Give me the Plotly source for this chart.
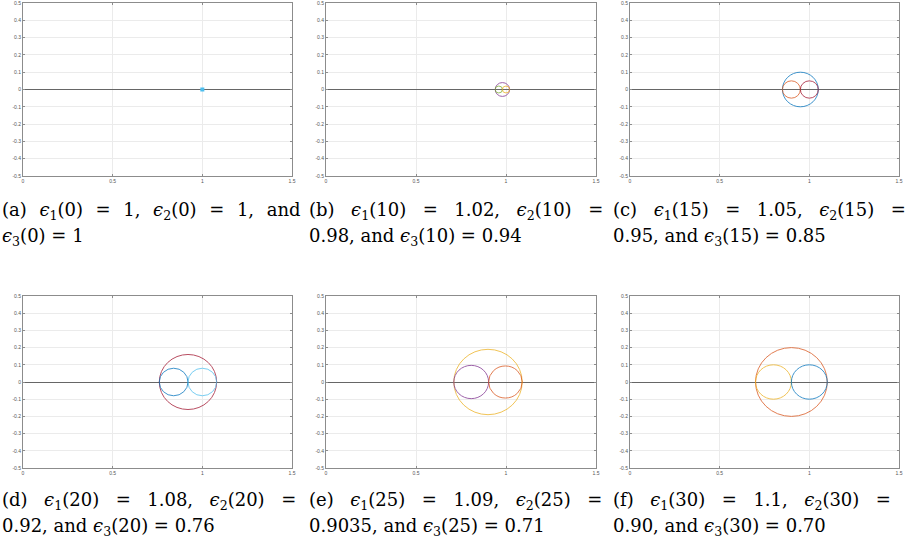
import plotly.graph_objects as go

# ============================================================================
# DATA
# ============================================================================
panel_labels = ['a', 'b', 'c', 'd', 'e', 'f']
steps = [0, 10, 15, 20, 25, 30]
eps1 = [1.0, 1.02, 1.05, 1.08, 1.09, 1.10]
eps2 = [1.0, 0.98, 0.95, 0.92, 0.9035, 0.90]
eps3 = [1.0, 0.94, 0.85, 0.76, 0.71, 0.70]
eps1_txt = ['1', '1.02', '1.05', '1.08', '1.09', '1.1']
eps2_txt = ['1', '0.98', '0.95', '0.92', '0.9035', '0.90']
eps3_txt = ['1', '0.94', '0.85', '0.76', '0.71', '0.70']

x_ticks = [0, 0.5, 1, 1.5]
x_ticktext = ['0', '0.5', '1', '1.5']
y_ticks = [0.5, 0.4, 0.3, 0.2, 0.1, 0, -0.1, -0.2, -0.3, -0.4, -0.5]
y_ticktext = ['0.5', '0.4', '0.3', '0.2', '0.1', '0', '-0.1', '-0.2', '-0.3', '-0.4', '-0.5']

# MATLAB default palette
BLUE, ORANGE, YELLOW, PURPLE = '#0072BD', '#D95319', '#EDB120', '#7E2F8E'
GREEN, LBLUE, DRED = '#77AC30', '#4DBEEE', '#A2142F'
# colours per panel: (big circle 3-1, left circle 3-2, right circle 2-1)
circle_colors = [
    (LBLUE, LBLUE, LBLUE),
    (PURPLE, GREEN, YELLOW),
    (BLUE, ORANGE, DRED),
    (DRED, BLUE, LBLUE),
    (YELLOW, PURPLE, ORANGE),
    (ORANGE, YELLOW, BLUE),
]

# ============================================================================
# LAYOUT (pixel geometry of the 914x550 page)
# ============================================================================
W, H = 914, 550
col_px = [(23, 292), (326, 596), (630, 899)]
row_px = [(3, 176), (296, 468)]
caption_x = [1, 308, 612]
caption_y = [(211, 237), (501, 527)]

fig = go.Figure()
SERIF = 'DejaVu Serif'
EPS = '<i>\u03f5</i>'
GAP_NORMAL = '\u00a0'
GAP_A = '\u2002\u2009'               # stretched spaces, caption (a) first line
GAP_WIDE = '\u00a0\u2002\u200a'      # stretched spaces, captions (b)-(f) first line

for i, lab in enumerate(panel_labels):
    r, c = divmod(i, 3)
    ax = '' if i == 0 else str(i + 1)
    xa, ya = 'x' + ax, 'y' + ax
    x0p, x1p = col_px[c]
    t, b = row_px[r]

    axis_common = dict(
        showline=True, linecolor='#8c8c8c', linewidth=1, mirror='ticks',
        ticks='inside', ticklen=2, tickcolor='#8c8c8c',
        showgrid=True, gridcolor='#ebebeb', gridwidth=1,
        tickfont=dict(size=5, color='#555555', family='Arial'),
        fixedrange=True, automargin=False, ticklabeloverflow='allow',
    )
    fig.layout['xaxis' + ax] = dict(
        axis_common, domain=[x0p / W, x1p / W], range=[0, 1.5],
        tickvals=x_ticks, ticktext=x_ticktext, zeroline=False,
        anchor=ya,
    )
    fig.layout['yaxis' + ax] = dict(
        axis_common, domain=[1 - b / H, 1 - t / H], range=[-0.5, 0.5],
        tickvals=y_ticks, ticktext=y_ticktext,
        zeroline=True, zerolinecolor='#666666', zerolinewidth=1,
        anchor=xa,
    )

    big, left, right = circle_colors[i]
    e1, e2, e3 = eps1[i], eps2[i], eps3[i]
    if e1 == e3:
        # all strains equal -> circles collapse to a point
        fig.add_trace(go.Scatter(
            x=[e1], y=[0], mode='markers', xaxis=xa, yaxis=ya,
            marker=dict(color=big, size=4, symbol='square'),
            showlegend=False, hoverinfo='skip'))
    else:
        for lo, hi, col in [(e3, e1, big), (e3, e2, left), (e2, e1, right)]:
            rad = (hi - lo) / 2
            fig.add_shape(type='circle', xref=xa, yref=ya,
                          x0=lo, x1=hi, y0=-rad, y1=rad, opacity=0.75,
                          line=dict(color=col, width=1))
        # invisible anchor trace so the axes are drawn
        fig.add_trace(go.Scatter(x=[e2], y=[0], mode='markers', xaxis=xa, yaxis=ya,
                                 marker=dict(opacity=0), showlegend=False,
                                 hoverinfo='skip'))

    # captions (justified look of the LaTeX subcaptions)
    n = steps[i]
    e1s = f"{EPS}<sub>1</sub>({n})"
    e2s = f"{EPS}<sub>2</sub>({n})"
    e3s = f"{EPS}<sub>3</sub>({n})"
    if i == 0:
        line1 = GAP_A.join([f"({lab})", e1s, "=", f"{eps1_txt[i]},", e2s, "=",
                            f"{eps2_txt[i]},", "and"])
        line2 = GAP_NORMAL.join([e3s, "=", eps3_txt[i]])
    else:
        line1 = GAP_WIDE.join([f"({lab})", e1s, "=", f"{eps1_txt[i]},", e2s, "="])
        line2 = GAP_NORMAL.join([f"{eps2_txt[i]},", "and", e3s, "=", eps3_txt[i]])
    for txt, yp in zip((line1, line2), caption_y[r]):
        fig.add_annotation(
            text=txt, xref='paper', yref='paper',
            x=caption_x[c] / W, y=1 - yp / H, xanchor='left', yanchor='middle',
            showarrow=False, borderpad=0,
            font=dict(family=SERIF, size=18, color='black'))

fig.update_layout(
    width=W, height=H, margin=dict(l=0, r=0, t=0, b=0),
    paper_bgcolor='white', plot_bgcolor='white', showlegend=False,
)

fig.write_html("out.html", config={'displayModeBar': False},
               post_script="document.body.style.margin='0';")
